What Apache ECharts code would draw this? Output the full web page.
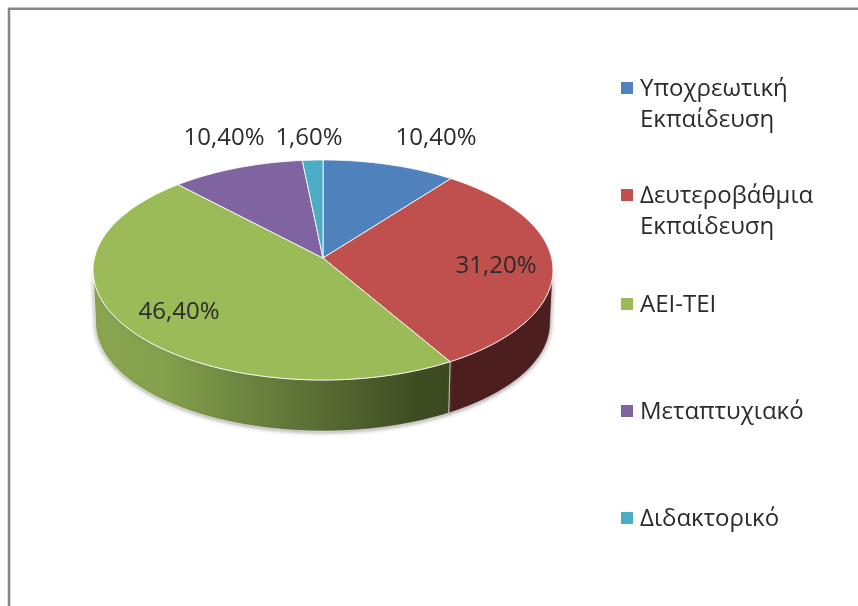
<!DOCTYPE html>
<html>
<head>
<meta charset="utf-8">
<title>pie</title>
<script src="https://cdn.jsdelivr.net/npm/echarts@6/dist/echarts.min.js"></script>
<style>
  html,body{margin:0;padding:0;background:#fff;}
  #chart{width:858px;height:606px;}
</style>
</head>
<body>
<div id="chart"></div>
<script>
const categories = ['Υποχρεωτική\nΕκπαίδευση','Δευτεροβάθμια\nΕκπαίδευση','ΑΕΙ-ΤΕΙ','Μεταπτυχιακό','Διδακτορικό']
const values = [10.4,31.2,46.4,10.4,1.6]
const colors = ['#4f81bd','#c0504d','#9bbb59','#8064a2','#4bacc6']

// layout of the tilted pie, kept apart from the data
const top3d = {cx:323,cy:258,a:228.6,b:108.7,k:0.109}
const bottom3d = {cx:323,cy:311,a:226,b:107,k:0.109}
const labelSpots = [[436,138],[496,266],[179,312],[224,138],[309,138]]
const legendRows = [88,195,304,411,518]
const textColor = '#2b2b2b'
const fontName = '"Open Sans"'

// cumulative share -> start/end of each slice
let sum = 0
const total = values.reduce((a,b)=>a+b,0)
const sliceData = values.map((v)=>{
  const row = [sum/total*360,(sum+v)/total*360,v]
  sum += v
  return row
})

// circle point to screen with a little perspective
function project(deg,r,p){
  const t = deg*Math.PI/180
  const u = Math.sin(t)*r
  const v = -Math.cos(t)*r
  const d = 1-p.k*v
  return [p.cx+p.a*u/d,p.cy+p.b*v/d]
}
function arc(from,to,p){
  const pts = []
  const n = Math.max(2,Math.ceil(Math.abs(to-from)))
  for(let i=0;i<=n;i++){
    pts.push(project(from+(to-from)*i/n,1,p))
  }
  return pts
}

function renderTop(params,api){
  const start = api.value(0)
  const end = api.value(1)
  const pts = [[top3d.cx,top3d.cy]].concat(arc(start,end,top3d))
  return {
    type:'polygon',
    shape:{points:pts},
    style:{fill:colors[params.dataIndex],stroke:'rgba(255,255,255,.85)',lineWidth:1}
  }
}

function wallFill(i){
  if(i===2){
    return new echarts.graphic.LinearGradient(0,0,1,0,[
      {offset:0,color:'#8ba650'},
      {offset:.2,color:'#84a04c'},
      {offset:.55,color:'#617739'},
      {offset:.9,color:'#3f4d22'},
      {offset:1,color:'#3c4920'}
    ])
  }
  return '#4c1e1d'
}

// only the front of the rim shows, from the right edge round to the left one
function renderWall(params,api){
  const from = Math.max(api.value(0),96)
  const to = Math.min(api.value(1),264)
  if(to<=from){
    return null
  }
  const pts = arc(from,to,top3d).concat(arc(to,from,bottom3d))
  return {
    type:'polygon',
    shape:{points:pts},
    style:{
      fill:wallFill(params.dataIndex),
      stroke:'rgba(255,255,255,.55)',
      lineWidth:1,
      shadowBlur:4,
      shadowColor:'rgba(90,90,90,.6)',
      shadowOffsetY:1
    }
  }
}

// percent text in the picture uses a comma
function percentText(v){
  return v.toFixed(2).replace('.',',')+'%'
}

const graphicItems = [
  {type:'polyline',shape:{points:[[9,606],[9,8.7],[858,8.7]]},style:{stroke:'#858585',lineWidth:2.5,fill:'none'},silent:true}
]
categories.forEach((name,i)=>{
  graphicItems.push({type:'rect',shape:{x:621,y:legendRows[i]-6,width:12,height:12},style:{fill:colors[i]}})
  graphicItems.push({type:'text',x:640,y:legendRows[i]-14,style:{
    text:name,fill:textColor,font:'24px '+fontName,lineHeight:31,textVerticalAlign:'top'
  }})
})
values.forEach((v,i)=>{
  graphicItems.push({type:'text',x:labelSpots[i][0],y:labelSpots[i][1],style:{
    text:percentText(v),fill:textColor,font:'24px '+fontName,textAlign:'center',textVerticalAlign:'middle'
  }})
})

const myChart = echarts.init(document.getElementById('chart'),null,{renderer:'canvas'})
myChart.setOption({
  animation:false,
  backgroundColor:'#fff',
  tooltip:{show:false},
  graphic:{elements:graphicItems.map((g)=>Object.assign({z:10},g))},
  series:[
    {type:'custom',coordinateSystem:'none',renderItem:renderWall,data:sliceData,silent:true,z:1},
    {type:'custom',coordinateSystem:'none',renderItem:renderTop,data:sliceData,silent:true,z:2}
  ]
})
</script>
</body>
</html>
